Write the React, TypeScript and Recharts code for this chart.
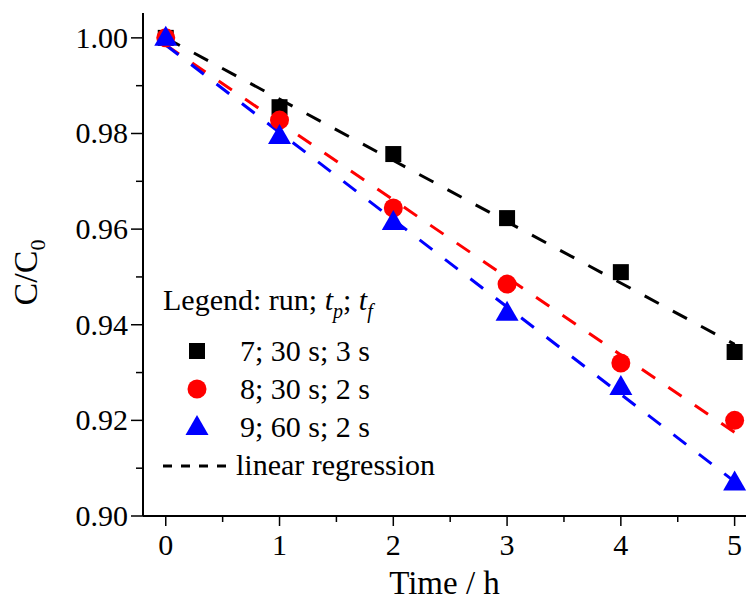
import { ScatterChart, Scatter, XAxis, YAxis, Legend, Label } from 'recharts';

const time = [0, 1, 2, 3, 4, 5];
const run7 = [1.0, 0.9855, 0.9757, 0.9623, 0.951, 0.9343];
const run8 = [1.0, 0.9828, 0.9644, 0.9485, 0.932, 0.92];
const run9 = [1.0, 0.9795, 0.9615, 0.9425, 0.927, 0.907];

// linear regression end points (t = 0 and t = 5)
const fitTime = [0, 5];
const fit7 = [1.0, 0.9359];
const fit8 = [0.9985, 0.9175];
const fit9 = [0.9985, 0.9072];

const xTicks = [0, 0.5, 1, 1.5, 2, 2.5, 3, 3.5, 4, 4.5, 5];
const yTicks = [0.9, 0.91, 0.92, 0.93, 0.94, 0.95, 0.96, 0.97, 0.98, 0.99, 1.0];

const font = '"Liberation Serif", "Times New Roman", serif';

const toPoints = (xs: number[], ys: number[]) => xs.map((t, i) => ({ t, c: ys[i] }));

const Square = ({ cx, cy, fill }: any) => <rect x={cx - 8} y={cy - 8} width={16} height={16} fill={fill} />;
const Dot = ({ cx, cy, fill }: any) => <circle cx={cx} cy={cy} r={9.5} fill={fill} />;
const Tri = ({ cx, cy, fill }: any) => (
  <polygon points={`${cx},${cy - 12} ${cx - 11.5},${cy + 8} ${cx + 11.5},${cy + 8}`} fill={fill} />
);
const NoDot = () => null;

const LeftTick = ({ x, y, payload }: any) => {
  const major = Math.round(payload.value * 100) % 2 === 0;
  return (
    <g>
      <line x1={x - (major ? 12 : 7)} x2={x} y1={y} y2={y} stroke="#000" strokeWidth={1.5} />
      {major && (
        <text x={x - 15} y={y + 10} textAnchor="end" fontSize={30} fontFamily={font} fill="#000">
          {payload.value.toFixed(2)}
        </text>
      )}
    </g>
  );
};

const BottomTick = ({ x, y, payload }: any) => {
  const major = Number.isInteger(payload.value);
  return (
    <g>
      <line x1={x} x2={x} y1={y} y2={y + (major ? 10 : 6)} stroke="#000" strokeWidth={1.5} />
      {major && (
        <text x={x} y={y + 39} textAnchor="middle" fontSize={30} fontFamily={font} fill="#000">
          {payload.value}
        </text>
      )}
    </g>
  );
};

const LegendBox = () => (
  <svg width={300} height={210} style={{ display: 'block' }}>
    <g fontFamily={font} fontSize={30} fill="#000">
      <text x={8} y={30}>
        Legend: run; <tspan fontStyle="italic">t</tspan>
        <tspan fontSize={20} fontStyle="italic" dy={8}>p</tspan>
        <tspan dy={-8}>; </tspan>
        <tspan fontStyle="italic">t</tspan>
        <tspan fontSize={20} fontStyle="italic" dy={8}>f</tspan>
      </text>
      <rect x={34} y={63} width={16} height={16} fill="#000" />
      <text x={85} y={81}>7; 30 s; 3 s</text>
      <circle cx={42} cy={109} r={9.5} fill="#ff0000" />
      <text x={85} y={119}>8; 30 s; 2 s</text>
      <polygon points="42,135 30.5,155 53.5,155" fill="#0000ff" />
      <text x={85} y={157}>9; 60 s; 2 s</text>
      <line x1={8} x2={72} y1={186} y2={186} stroke="#000" strokeWidth={3} strokeDasharray="9 9" />
      <text x={81} y={195}>linear regression</text>
    </g>
  </svg>
);

export default function App() {
  return (
    <div style={{ position: 'absolute', left: 0, top: 0, width: 748, height: 601, background: '#fff' }}>
      <ScatterChart width={748} height={601} margin={{ top: 13, right: 2, bottom: 0, left: 0 }}>
        <XAxis
          xAxisId="main"
          dataKey="t"
          type="number"
          domain={[-0.2, 5.1]}
          ticks={xTicks}
          interval={0}
          height={85}
          tickSize={0}
          tickMargin={0}
          tickLine={false}
          tick={<BottomTick />}
          axisLine={{ stroke: '#000', strokeWidth: 2 }}
        >
          <Label
            content={({ viewBox }: any) => (
              <text
                x={viewBox.x + viewBox.width / 2}
                y={594}
                textAnchor="middle"
                fontSize={33}
                fontFamily={font}
                fill="#000"
              >
                Time / h
              </text>
            )}
          />
        </XAxis>
        <XAxis
          xAxisId="top"
          orientation="top"
          dataKey="t"
          type="number"
          domain={[-0.2, 5.1]}
          ticks={xTicks}
          interval={0}
          height={0}
          mirror
          tick={false}
          tickSize={4}
          tickLine={{ stroke: '#000', strokeWidth: 1.5 }}
          axisLine={{ stroke: '#000', strokeWidth: 2 }}
        />
        <YAxis
          yAxisId="main"
          dataKey="c"
          type="number"
          domain={[0.9, 1.0052]}
          ticks={yTicks}
          interval={0}
          width={143}
          tickSize={0}
          tickMargin={0}
          tickLine={false}
          tick={<LeftTick />}
          axisLine={{ stroke: '#000', strokeWidth: 2 }}
        >
          <Label
            content={({ viewBox }: any) => {
              const cy = viewBox.y + viewBox.height / 2 + 8;
              return (
                <text
                  transform={`translate(37, ${cy}) rotate(-90)`}
                  textAnchor="middle"
                  fontSize={34}
                  fontFamily={font}
                  fill="#000"
                >
                  C/C<tspan fontSize={22} dy={8}>0</tspan>
                </text>
              );
            }}
          />
        </YAxis>
        <YAxis
          yAxisId="right"
          orientation="right"
          dataKey="c"
          type="number"
          domain={[0.9, 1.0052]}
          ticks={yTicks}
          interval={0}
          width={0}
          mirror
          tick={false}
          tickSize={4}
          tickLine={{ stroke: '#000', strokeWidth: 1.5 }}
          axisLine={{ stroke: '#000', strokeWidth: 2 }}
        />

        <Scatter xAxisId="main" yAxisId="main" data={toPoints(fitTime, fit7)} line={{ stroke: '#000', strokeWidth: 3, strokeDasharray: '16 16' }} shape={NoDot} isAnimationActive={false} />
        <Scatter xAxisId="main" yAxisId="main" data={toPoints(fitTime, fit8)} line={{ stroke: '#ff0000', strokeWidth: 3, strokeDasharray: '16 16' }} shape={NoDot} isAnimationActive={false} />
        <Scatter xAxisId="main" yAxisId="main" data={toPoints(fitTime, fit9)} line={{ stroke: '#0000ff', strokeWidth: 3, strokeDasharray: '16 16' }} shape={NoDot} isAnimationActive={false} />

        <Scatter xAxisId="main" yAxisId="main" data={toPoints(time, run7)} fill="#000" shape={Square} isAnimationActive={false} />
        <Scatter xAxisId="main" yAxisId="main" data={toPoints(time, run8)} fill="#ff0000" shape={Dot} isAnimationActive={false} />
        <Scatter xAxisId="main" yAxisId="main" data={toPoints(time, run9)} fill="#0000ff" shape={Tri} isAnimationActive={false} />

        <Legend
          layout="vertical"
          align="center"
          verticalAlign="middle"
          content={() => <LegendBox />}
          wrapperStyle={{ left: 155, top: 280, width: 300, height: 210 }}
        />
      </ScatterChart>
    </div>
  );
}
